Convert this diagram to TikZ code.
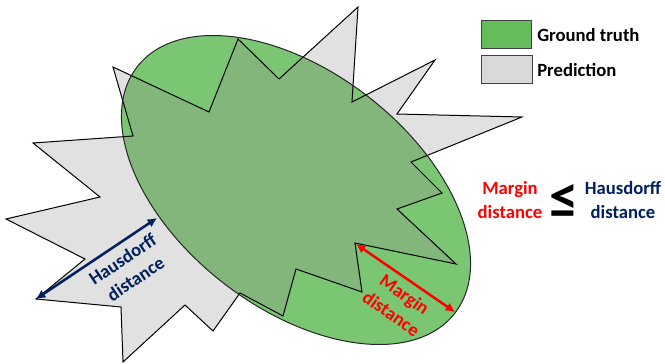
\documentclass[tikz,border=0pt]{standalone}
\usepackage{fontspec}
\setmainfont{Carlito}
\usetikzlibrary{arrows.meta}
\definecolor{gtgreen}{HTML}{7AC673}
\definecolor{ovgreen}{HTML}{82B67A}
\definecolor{predgray}{HTML}{E1E1E1}
\definecolor{leggreen}{HTML}{64BC5A}
\definecolor{leggray}{HTML}{D9D9D9}
\definecolor{hdnavy}{HTML}{002060}
\newcommand{\predshape}{(238,39) -- (279,79) -- (358,7) -- (352,102) -- (435,60) -- (397,114)
  -- (522,117) -- (411,162) -- (442,193) -- (397,209) -- (456,264) -- (355,243) -- (362,292)
  -- (296,269) -- (283,316) -- (240,293) -- (213,331) -- (185,305) -- (123,362) -- (121,307)
  -- (36,299) -- (85,259) -- (6,219) -- (100,197) -- (33,143) -- (133,136) -- (113,67)
  -- (209,112) -- cycle}
\newcommand{\gtshape}{[rotate around={-37.8:(296,190)}] (296,190) ellipse [x radius=201, y radius=118]}

\begin{document}
\begin{tikzpicture}[x=0.75pt, y=-0.75pt,
    lbl/.style={font=\fontsize{14}{17.5}\selectfont\bfseries, align=center, inner sep=0pt},
    legbox/.style={draw=black!75, line width=0.8pt, minimum width=38pt, minimum height=21.5pt},
    dist/.style={line width=1.9pt, {Latex[length=7pt,width=7pt]}-{Latex[length=7pt,width=7pt]}}]
    \useasboundingbox (0,0) rectangle (665,364);

    % prediction and ground truth
    \fill[predgray] \predshape;
    \fill[gtgreen] \gtshape;
    \begin{scope}
        \clip \gtshape;
        \fill[ovgreen] \predshape;
    \end{scope}
    \draw[line width=0.75pt] \predshape;
    \draw[line width=0.75pt, black!85] \gtshape;

    % legend
    \node[legbox, fill=leggreen] (gtbox) at (506.5,34.5) {};
    \node[legbox, fill=leggray] (predbox) at (507,69.5) {};
    \node[lbl, anchor=west] (gtlabel) at (537,35) {Ground truth};
    \node[lbl, anchor=west] (predlabel) at (537,70) {Prediction};

    % distances
    \coordinate (hdout) at (36,299);
    \coordinate (hdin) at (157,218);
    \coordinate (mdin) at (356,244);
    \coordinate (mdout) at (455,312);
    \draw[dist, hdnavy] (hdout) -- (hdin);
    \draw[dist, red] (mdin) -- (mdout);
    \node[lbl, hdnavy, rotate=33.8] (hdlabel) at (129,269) {Hausdorff\\distance};
    \node[lbl, red, rotate=-35] (mdlabel) at (398,304) {Margin\\distance};

    % relation
    \node[lbl, red] (mdtext) at (510,200) {Margin\\distance};
    \node[font=\fontsize{44}{44}\selectfont\bfseries, inner sep=0pt] (leq) at (564,201) {≤};
    \node[lbl, hdnavy] (hdtext) at (623,200) {Hausdorff\\distance};
\end{tikzpicture}
\end{document}
